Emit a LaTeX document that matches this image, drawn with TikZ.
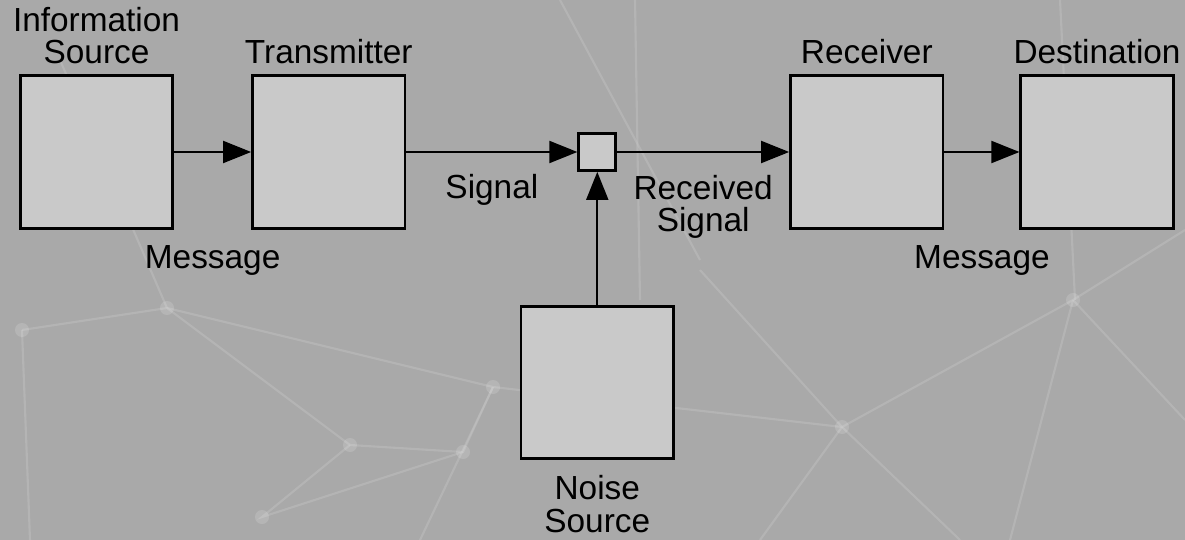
\documentclass[tikz,border=0pt]{standalone}
\usepackage{fontspec}
\setmainfont{Liberation Sans}
\usetikzlibrary{arrows.meta,positioning,calc}
\definecolor{BgGray}{HTML}{A9A9A9}
\definecolor{BoxGray}{HTML}{C9C9C9}
\definecolor{NetLine}{HTML}{C6C6C6}
\tikzset{
    % square blocks, black frame
    blockbox/.style={
        rectangle,
        draw=black,
        fill=BoxGray,
        line width=1.6pt,
        minimum width=3.05cm,
        minimum height=3.05cm
    },
    junctionbox/.style={
        rectangle,
        draw=black,
        fill=BoxGray,
        line width=1.6pt,
        inner sep=0pt,
        minimum width=0.74cm,
        minimum height=0.74cm
    },
    caption/.style={
        font=\fontsize{19}{18.4}\selectfont,
        align=center,
        inner sep=0pt
    },
    arrow/.style={
        -{Triangle[length=0.56cm,width=0.44cm]},
        line width=1.1pt,
        color=black
    },
    netline/.style={
        NetLine,
        line width=1.2pt,
        opacity=0.4
    }
}

\begin{document}
\begin{tikzpicture}[x=0.02cm, y=-0.02cm]
    % background
    \fill[BgGray] (0,0) rectangle (1185,540);
    \useasboundingbox (0,0) rectangle (1185,540);

    % faint network behind the diagram
    \coordinate (p1) at (167,308);
    \coordinate (p2) at (350,445);
    \coordinate (p3) at (493,387);
    \coordinate (p4) at (842,427);
    \coordinate (p5) at (1073,300);
    \coordinate (p6) at (22,330);
    \coordinate (p7) at (262,517);
    \coordinate (p8) at (463,452);
    \draw[netline] (p6) -- (p1) -- (p3) -- (p4) -- (p5) -- (1185,230);
    \draw[netline] (p1) -- (p2) -- (p8) -- (p3);
    \draw[netline] (p2) -- (p7) -- (p8);
    \draw[netline] (p3) -- (420,540);
    \draw[netline] (p4) -- (700,270);
    \draw[netline] (p4) -- (960,540);
    \draw[netline] (p4) -- (760,540);
    \draw[netline] (p5) -- (1010,540);
    \draw[netline] (p5) -- (1185,420);
    \draw[netline] (p6) -- (30,540);
    \draw[netline] (p1) -- (60,60);
    \draw[netline] (560,0) -- (700,260);
    \draw[netline] (635,0) -- (640,300);
    \draw[netline] (1060,0) -- (1075,300);
    \foreach \p in {p1,p2,p3,p4,p5,p6,p7,p8}
        \fill[white, opacity=0.15] (\p) circle (7);

    % blocks
    \node[blockbox] (src) at (96.5,152) {};
    \node[blockbox, right=1.54cm of src] (tx) {};
    \node[junctionbox, right=3.42cm of tx] (mix) {};
    \node[blockbox, right=3.44cm of mix] (rx) {};
    \node[blockbox, right=1.50cm of rx] (dst) {};
    \node[blockbox, below=2.66cm of mix] (noise) {};

    % block titles
    \node[caption, anchor=base] (srclbl) at ([yshift=0.22cm]src.north) {Information\\Source};
    \node[caption, anchor=base] (txlbl) at ([yshift=0.22cm]tx.north) {Transmitter};
    \node[caption, anchor=base] (rxlbl) at ([yshift=0.22cm]rx.north) {Receiver};
    \node[caption, anchor=base] (dstlbl) at ([yshift=0.22cm]dst.north) {Destination};
    \node[caption, anchor=base] (noiselbl) at ([yshift=-1.44cm]noise.south) {Noise\\Source};

    % arrows
    \draw[arrow] (src) -- node[caption, anchor=base, yshift=-2.34cm] (msgin) {Message} (tx);
    \draw[arrow] (tx) -- node[caption, anchor=base, yshift=-0.94cm] (sig) {Signal} (mix);
    \draw[arrow] (mix) -- node[caption, anchor=base, yshift=-1.6cm] (rsig) {Received\\Signal} (rx);
    \draw[arrow] (rx) -- node[caption, anchor=base, yshift=-2.34cm] (msgout) {Message} (dst);
    \draw[arrow] (noise) -- (mix);
\end{tikzpicture}
\end{document}
